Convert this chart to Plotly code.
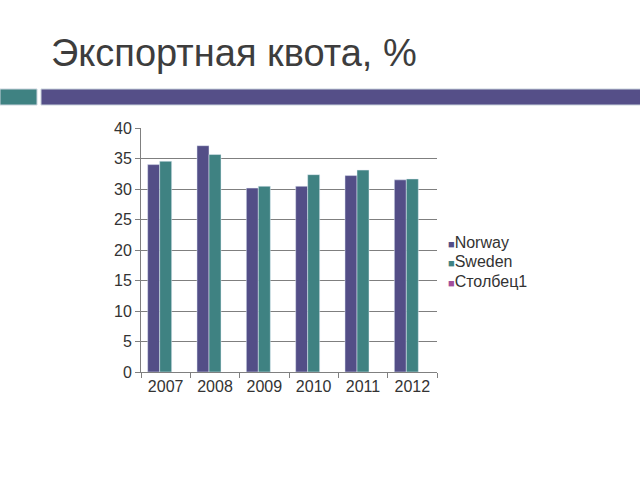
import plotly.graph_objects as go

years = ["2007", "2008", "2009", "2010", "2011", "2012"]
norway = [34.0, 37.1, 30.15, 30.45, 32.2, 31.5]
sweden = [34.55, 35.65, 30.45, 32.35, 33.1, 31.65]
stolbets = [None, None, None, None, None, None]
series_names = ["Norway", "Sweden", "Столбец1"]
y_ticks = [0, 5, 10, 15, 20, 25, 30, 35, 40]

C_NOR = "#534E87"
C_SWE = "#3F8282"
C_COL = "#A24E9A"
colors = [C_NOR, C_SWE, C_COL]

W, H = 640, 480
L, R, T, B = 141, 203, 128, 108
pw, ph = W - L - R, H - T - B

def px_x(x):
    return (x - L) / pw

def px_y(y):
    return (H - B - y) / ph

fig = go.Figure()
for name, vals, col in zip(series_names, [norway, sweden, stolbets], colors):
    fig.add_bar(x=years, y=vals, name=name, marker_color=col)

font = "Liberation Sans, Arial, sans-serif"

legend_ann = []
for i, (name, col) in enumerate(zip(series_names, colors)):
    legend_ann.append(dict(
        text=f"<span style='color:{col};font-size:11px'>■</span>{name}",
        xref="paper", yref="paper", x=px_x(446), y=px_y(242 + i * 19.5),
        xanchor="left", yanchor="middle", showarrow=False,
        font=dict(family=font, size=16, color="#333333")))

fig.update_layout(
    width=W, height=H,
    margin=dict(l=L, r=R, t=T, b=B),
    paper_bgcolor="white", plot_bgcolor="white",
    barmode="group", bargap=0.27, bargroupgap=0,
    font=dict(family=font, size=16, color="#333333"),
    showlegend=False,
    xaxis=dict(type="category", showline=True, linecolor="#808080", linewidth=1,
               ticks="outside", tickson="boundaries", ticklen=5, tickcolor="#808080",
               showgrid=False, tickfont=dict(size=16, color="#333333")),
    yaxis=dict(range=[0, 40], tickvals=y_ticks, showline=True, linecolor="#808080",
               linewidth=1, ticks="outside", ticklen=5, tickcolor="#808080",
               showgrid=True, gridcolor="#7f7f7f", gridwidth=1, zeroline=False,
               tickfont=dict(size=16, color="#333333")),
    shapes=[
        dict(type="rect", xref="paper", yref="paper",
             x0=px_x(0), x1=px_x(37), y0=px_y(89), y1=px_y(105),
             fillcolor="#3F8282", line=dict(color="#c9d3dc", width=1), layer="above"),
        dict(type="rect", xref="paper", yref="paper",
             x0=px_x(41), x1=px_x(641), y0=px_y(89), y1=px_y(105),
             fillcolor="#554F88", line=dict(color="#c9d3dc", width=1), layer="above"),
    ],
    annotations=[
        dict(text="Экспортная квота, %", xref="paper", yref="paper",
             x=px_x(49), y=px_y(53), xanchor="left", yanchor="middle",
             showarrow=False, font=dict(family=font, size=38, color="#3d3d3d")),
    ] + legend_ann,
)

fig.write_html("out.html")
